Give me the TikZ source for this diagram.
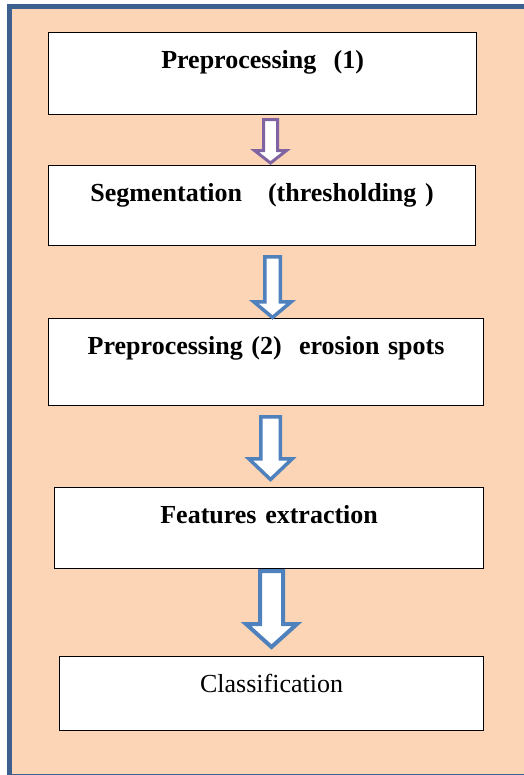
\documentclass[tikz,border=0pt]{standalone}
\usepackage{fontspec}
\setmainfont{Liberation Serif}
\usetikzlibrary{calc}
\definecolor{peach}{HTML}{FBD5B5}
\definecolor{frameblue}{HTML}{3E608E}
\definecolor{arrpurple}{HTML}{8064A2}
\definecolor{arrblue}{HTML}{4F81BD}
\tikzset{
  stepbox/.style={draw=black, line width=1.2bp, fill=white, anchor=north west,
    inner xsep=0pt, inner ysep=0pt, text height=35.5bp, align=center,
    font=\fontsize{26bp}{30bp}\selectfont},
  blockarr/.style={line width=#1, fill=white, line join=miter},
}
% #1 from, #2 to, #3 x centre, #4 top gap, #5 tip gap, #6 shaft half width,
% #7 head half width, #8 head length, #9 style (colour, width)
\newcommand{\blockarrow}[9]{%
  \draw[#9] let \p1=(#1.south), \p2=(#2.north) in
    (#3bp-#6bp, \y1-#4bp) -- (#3bp+#6bp, \y1-#4bp)
    -- (#3bp+#6bp, \y2+#5bp+#8bp) -- (#3bp+#7bp, \y2+#5bp+#8bp)
    -- (#3bp, \y2+#5bp) -- (#3bp-#7bp, \y2+#5bp+#8bp)
    -- (#3bp-#6bp, \y2+#5bp+#8bp) -- cycle;}
\begin{document}
\begin{tikzpicture}[x=1bp,y=-1bp]
  \clip (0,0) rectangle (524,775);
  \fill[white] (0,0) rectangle (524,775);
  \fill[peach] (9.5,6.5) rectangle (540,776);
  \draw[frameblue, line width=5bp] (9.5,6.5) rectangle (540,776);

  \node[stepbox, minimum width=428bp, text depth=46.5bp, text width=428bp] (b1) at (48,32) {\textbf{Preprocessing\ \ (1)}};
  \node[stepbox, minimum width=427bp, text depth=44.5bp, text width=427bp] (b2) at (48,165) {\textbf{Segmentation\ \ \ (thresholding )}};
  \node[stepbox, minimum width=435bp, text depth=51.5bp, text width=435bp] (b3) at (48,318) {\textbf{Preprocessing (2)\ \ erosion spots}};
  \node[stepbox, minimum width=429bp, text depth=45.5bp, text width=429bp] (b4) at (54,487) {\textbf{Features extraction}};
  \node[stepbox, minimum width=424bp, text depth=38.5bp, text width=424bp] (b5) at (59,656) {Classification};

  \blockarrow{b1}{b2}{270.5}{4.5}{2}{7}{16}{12.5}{draw=arrpurple, blockarr=3bp}
  \blockarrow{b2}{b3}{272.5}{10.75}{0.5}{7.75}{18.75}{15.75}{draw=arrblue, blockarr=3.5bp}
  \blockarrow{b3}{b4}{270.5}{10.75}{7.5}{9.75}{21.75}{20.75}{draw=arrblue, blockarr=3.5bp}
  \blockarrow{b4}{b5}{271.5}{2}{9}{11.5}{25.5}{23}{draw=arrblue, blockarr=4bp}
\end{tikzpicture}
\end{document}
